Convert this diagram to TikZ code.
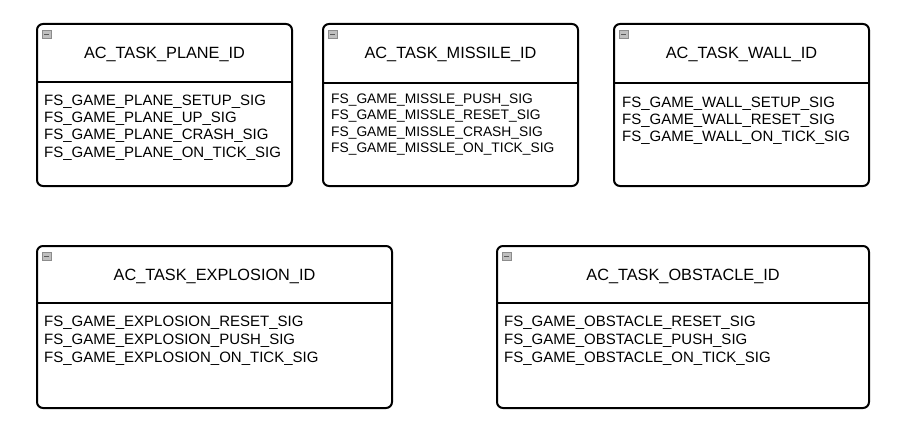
\documentclass[tikz,border=0pt]{standalone}
\usepackage{fontspec}
\setmainfont{Liberation Sans}
\begin{document}
\begin{tikzpicture}[x=1pt,y=-1pt,
  taskframe/.style={draw=black,line width=2pt,rounded corners=6pt,fill=white,inner sep=0pt,minimum height=162pt},
  sepline/.style={draw=black,line width=2pt},
  titletext/.style={inner sep=0pt,anchor=base,font=\fontsize{16.3}{19}\selectfont},
  sigtext/.style={inner sep=0pt,anchor=base west,font=\fontsize{15}{18}\selectfont},
  smallsig/.style={inner sep=0pt,anchor=base west,font=\fontsize{13.8}{16}\selectfont},
  iconbox/.style={draw=black!45,fill=black!25,line width=0.8pt,minimum width=9pt,minimum height=8pt,inner sep=0pt,anchor=north west,
    path picture={\draw[black!65,line width=1.4pt] ([xshift=2pt]path picture bounding box.west) -- ([xshift=-2pt]path picture bounding box.east);}}
]
\useasboundingbox (0,0) rectangle (902,444);
\fill[white] (0,0) rectangle (902,444);

% ---- PLANE ----
\node[taskframe,minimum width=255pt] (plane) at (164.5,105) {};
\draw[sepline] (plane.west |- 0,82) -- (plane.east |- 0,82);
\node[iconbox] (planeI) at (42,30) {};
\node[titletext] (planeT) at (164.5,59) {AC\_TASK\_PLANE\_ID};
\node[sigtext] (plane1) at (44,105) {FS\_GAME\_PLANE\_SETUP\_SIG};
\node[sigtext] (plane2) at (44,122) {FS\_GAME\_PLANE\_UP\_SIG};
\node[sigtext] (plane3) at (44,139) {FS\_GAME\_PLANE\_CRASH\_SIG};
\node[sigtext] (plane4) at (44,157) {FS\_GAME\_PLANE\_ON\_TICK\_SIG};

% ---- MISSILE ----
\node[taskframe,minimum width=255pt] (missile) at (450.5,105) {};
\draw[sepline] (missile.west |- 0,83) -- (missile.east |- 0,83);
\node[iconbox] (missileI) at (328,30) {};
\node[titletext] (missileT) at (450.5,59) {AC\_TASK\_MISSILE\_ID};
\node[smallsig] (missile1) at (331,103.3) {FS\_GAME\_MISSLE\_PUSH\_SIG};
\node[smallsig] (missile2) at (331,119.7) {FS\_GAME\_MISSLE\_RESET\_SIG};
\node[smallsig] (missile3) at (331,136) {FS\_GAME\_MISSLE\_CRASH\_SIG};
\node[smallsig] (missile4) at (331,152.7) {FS\_GAME\_MISSLE\_ON\_TICK\_SIG};

% ---- WALL ----
\node[taskframe,minimum width=255pt] (wall) at (741.5,105) {};
\draw[sepline] (wall.west |- 0,83) -- (wall.east |- 0,83);
\node[iconbox] (wallI) at (619,30) {};
\node[titletext] (wallT) at (741.5,59) {AC\_TASK\_WALL\_ID};
\node[sigtext] (wall1) at (622,107) {FS\_GAME\_WALL\_SETUP\_SIG};
\node[sigtext] (wall2) at (622,124) {FS\_GAME\_WALL\_RESET\_SIG};
\node[sigtext] (wall3) at (622,141) {FS\_GAME\_WALL\_ON\_TICK\_SIG};

% ---- EXPLOSION ----
\node[taskframe,minimum width=355pt] (explosion) at (214.5,327) {};
\draw[sepline] (explosion.west |- 0,303) -- (explosion.east |- 0,303);
\node[iconbox] (explosionI) at (42,252) {};
\node[titletext] (explosionT) at (214.5,280.5) {AC\_TASK\_EXPLOSION\_ID};
\node[sigtext] (explosion1) at (44,326) {FS\_GAME\_EXPLOSION\_RESET\_SIG};
\node[sigtext] (explosion2) at (44,344) {FS\_GAME\_EXPLOSION\_PUSH\_SIG};
\node[sigtext] (explosion3) at (44,362) {FS\_GAME\_EXPLOSION\_ON\_TICK\_SIG};

% ---- OBSTACLE ----
\node[taskframe,minimum width=372pt] (obstacle) at (683,327) {};
\draw[sepline] (obstacle.west |- 0,303) -- (obstacle.east |- 0,303);
\node[iconbox] (obstacleI) at (502,252) {};
\node[titletext] (obstacleT) at (683,280.5) {AC\_TASK\_OBSTACLE\_ID};
\node[sigtext] (obstacle1) at (504,326) {FS\_GAME\_OBSTACLE\_RESET\_SIG};
\node[sigtext] (obstacle2) at (504,344) {FS\_GAME\_OBSTACLE\_PUSH\_SIG};
\node[sigtext] (obstacle3) at (504,362) {FS\_GAME\_OBSTACLE\_ON\_TICK\_SIG};
\end{tikzpicture}
\end{document}
